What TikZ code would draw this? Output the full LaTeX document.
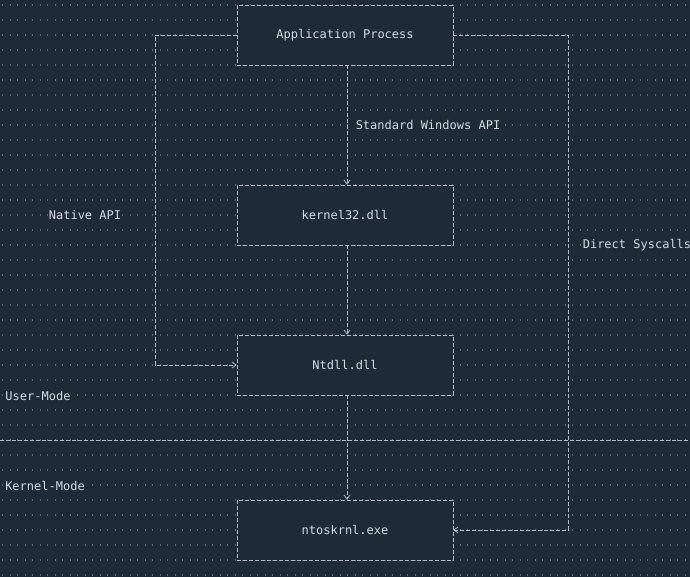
\documentclass[tikz,border=0pt]{standalone}
\usepackage{fontspec}
\setmainfont{DejaVu Sans Mono}
\usetikzlibrary{positioning,arrows.meta}
\definecolor{bgcol}{HTML}{1E2A35}
\definecolor{txtcol}{HTML}{D4DCE4}
\definecolor{linecol}{HTML}{B0BCC6}
\definecolor{dotcol}{HTML}{5A6A76}
\tikzset{
  proc/.style={draw=linecol, line width=0.8pt, dash pattern=on 4pt off 2pt, fill=bgcol, minimum width=216pt, minimum height=60pt, text=txtcol, inner sep=0pt},
  lbl/.style={fill=bgcol, text=txtcol, inner sep=1pt},
  flow/.style={draw=linecol, line width=0.8pt, dash pattern=on 4pt off 2pt, -{Straight Barb[length=4pt,width=6pt]}},
  wire/.style={draw=linecol, line width=0.8pt, dash pattern=on 4pt off 2pt}
}
\begin{document}
\begin{tikzpicture}[x=1pt,y=-1pt,font=\fontsize{12}{14}\selectfont]
\fill[bgcol] (0,0) rectangle (690,577);
\useasboundingbox (0,0) rectangle (690,577);
% whitespace dots
\foreach \r in {0,...,38}
  \draw[dotcol, line width=1.2pt, dash pattern=on 1.2pt off 6.3pt] (2,5+15*\r) -- (690,5+15*\r);
% boxes
\node[proc] (app) at (345,35) {Application Process};
\node[proc] (k32) at (345,215) {kernel32.dll};
\node[proc] (ntdll) at (345,365) {Ntdll.dll};
\node[proc] (ntos) at (345,530) {ntoskrnl.exe};
% helper points
\coordinate (nl) at (155,35);
\coordinate (nb) at (155,365);
\coordinate (dr) at (568,35);
\coordinate (db) at (568,530);
\coordinate (ml) at (0,440);
\coordinate (mr) at (690,440);
% mode split
\draw[wire] (ml) -- (mr);
% connectors
\draw[flow] (app.south -| 347,0) -- (k32.north -| 347,0);
\draw[flow] (k32.south -| 347,0) -- (ntdll.north -| 347,0);
\draw[flow] (ntdll.south -| 347,0) -- (ntos.north -| 347,0);
\draw[flow] (app.west) -- (nl) -- (nb) -- (ntdll.west);
\draw[flow] (app.east) -- (dr) -- (db) -- (ntos.east);
% labels
\node[lbl] (stdapi) at (428,125) {Standard Windows API};
\node[lbl] (natapi) at (85,215) {Native API};
\node[lbl] (sysc) at (637,245) {Direct Syscalls};
\node[lbl] (um) at (38,396) {User-Mode};
\node[lbl] (km) at (45,486) {Kernel-Mode};
\end{tikzpicture}
\end{document}
